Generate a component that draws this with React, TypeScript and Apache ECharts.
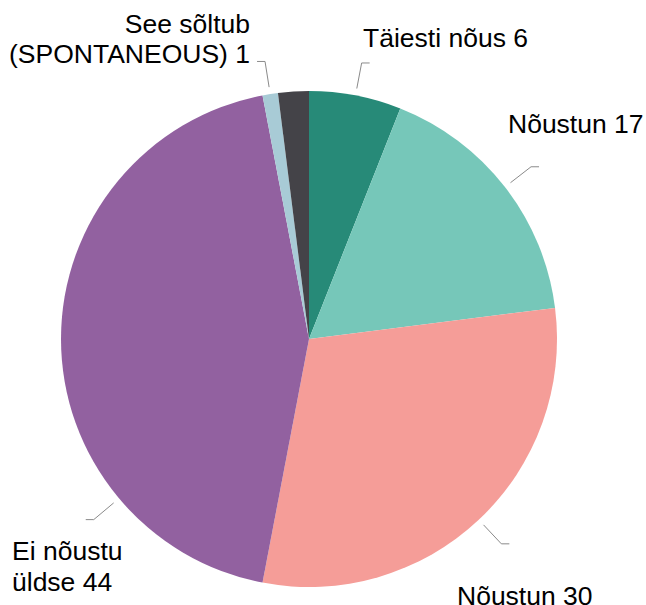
import React, { useEffect, useRef } from "react";
import * as echarts from "echarts";

const categories = [
  "Täiesti nõus",
  "Nõustun",
  "Nõustun",
  "Ei nõustu\nüldse",
  "See sõltub\n(SPONTANEOUS)",
  "Ei oska öelda",
];
const values = [6, 17, 30, 44, 1, 2];
const colors = ["#278A78", "#76C7B9", "#F59D98", "#9261A0", "#A8CBD6", "#444348"];
const showLabel = [true, true, true, true, true, false];

const CENTER: [number, number] = [309, 339];
const RADIUS = 248;
const LINE_GAP = 7;
const LINE_LEN = 33;
const LINE_LEN2 = 8;

// label anchor positions (x, y, align, lineHeight)
const labelPos: [number, number, string, number][] = [
  [363, 23, "left", 30],
  [508, 109, "left", 30],
  [457, 581, "left", 30],
  [12, 535, "left", 31],
  [250, 9, "right", 30],
  [0, 0, "left", 30],
];
// optional label-line direction override (degrees clockwise from 12 o'clock)
const lineAngle: (number | null)[] = [null, null, null, 230, null, null];

export default function App() {
  const ref = useRef<HTMLDivElement>(null);
  useEffect(() => {
    if (!ref.current) return;
    const chart = echarts.init(ref.current, null, { renderer: "svg" });
    chart.setOption({
      animation: false,
      backgroundColor: "#ffffff",
      series: [
        {
          type: "pie",
          center: CENTER,
          radius: RADIUS,
          startAngle: 90,
          clockwise: true,
          avoidLabelOverlap: false,
          data: categories.map((name, i) => ({
            name,
            value: values[i],
            itemStyle: { color: colors[i] },
            label: {
              show: showLabel[i],
              lineHeight: labelPos[i][3],
            },
            labelLine: { show: showLabel[i] },
          })),
          label: {
            formatter: "{b} {c}",
            fontFamily: "Liberation Sans, Arial, sans-serif",
            fontSize: 26.5,
            color: "#000000",
            lineHeight: 30,
          },
          labelLine: {
            length: LINE_LEN,
            length2: LINE_LEN2,
            lineStyle: { color: "#8a8a8a", width: 1 },
          },
          labelLayout: (params: any) => {
            const i = params.dataIndex;
            const p = labelPos[i];
            const pts = params.labelLinePoints;
            let newPts = pts;
            const ang = lineAngle[i];
            if (ang != null) {
              const rad = (ang * Math.PI) / 180;
              const dx = Math.sin(rad);
              const dy = -Math.cos(rad);
              const a = [CENTER[0] + dx * (RADIUS + LINE_GAP), CENTER[1] + dy * (RADIUS + LINE_GAP)];
              const b = [CENTER[0] + dx * (RADIUS + LINE_LEN), CENTER[1] + dy * (RADIUS + LINE_LEN)];
              const c = [b[0] + (dx < 0 ? -LINE_LEN2 : LINE_LEN2), b[1]];
              newPts = [a, b, c];
            } else if (pts && pts.length >= 3) {
              const dx = pts[1][0] - pts[0][0];
              const dy = pts[1][1] - pts[0][1];
              const len = Math.sqrt(dx * dx + dy * dy) || 1;
              newPts = [
                [pts[0][0] + (dx / len) * LINE_GAP, pts[0][1] + (dy / len) * LINE_GAP],
                pts[1],
                pts[2],
              ];
            }
            return {
              x: p[0],
              y: p[1],
              align: p[2],
              verticalAlign: "top",
              labelLinePoints: newPts,
            };
          },
        },
      ],
    });
    return () => chart.dispose();
  }, []);
  return (
    <div
      ref={ref}
      style={{ position: "fixed", left: 0, top: 0, width: 646, height: 605 }}
    />
  );
}
